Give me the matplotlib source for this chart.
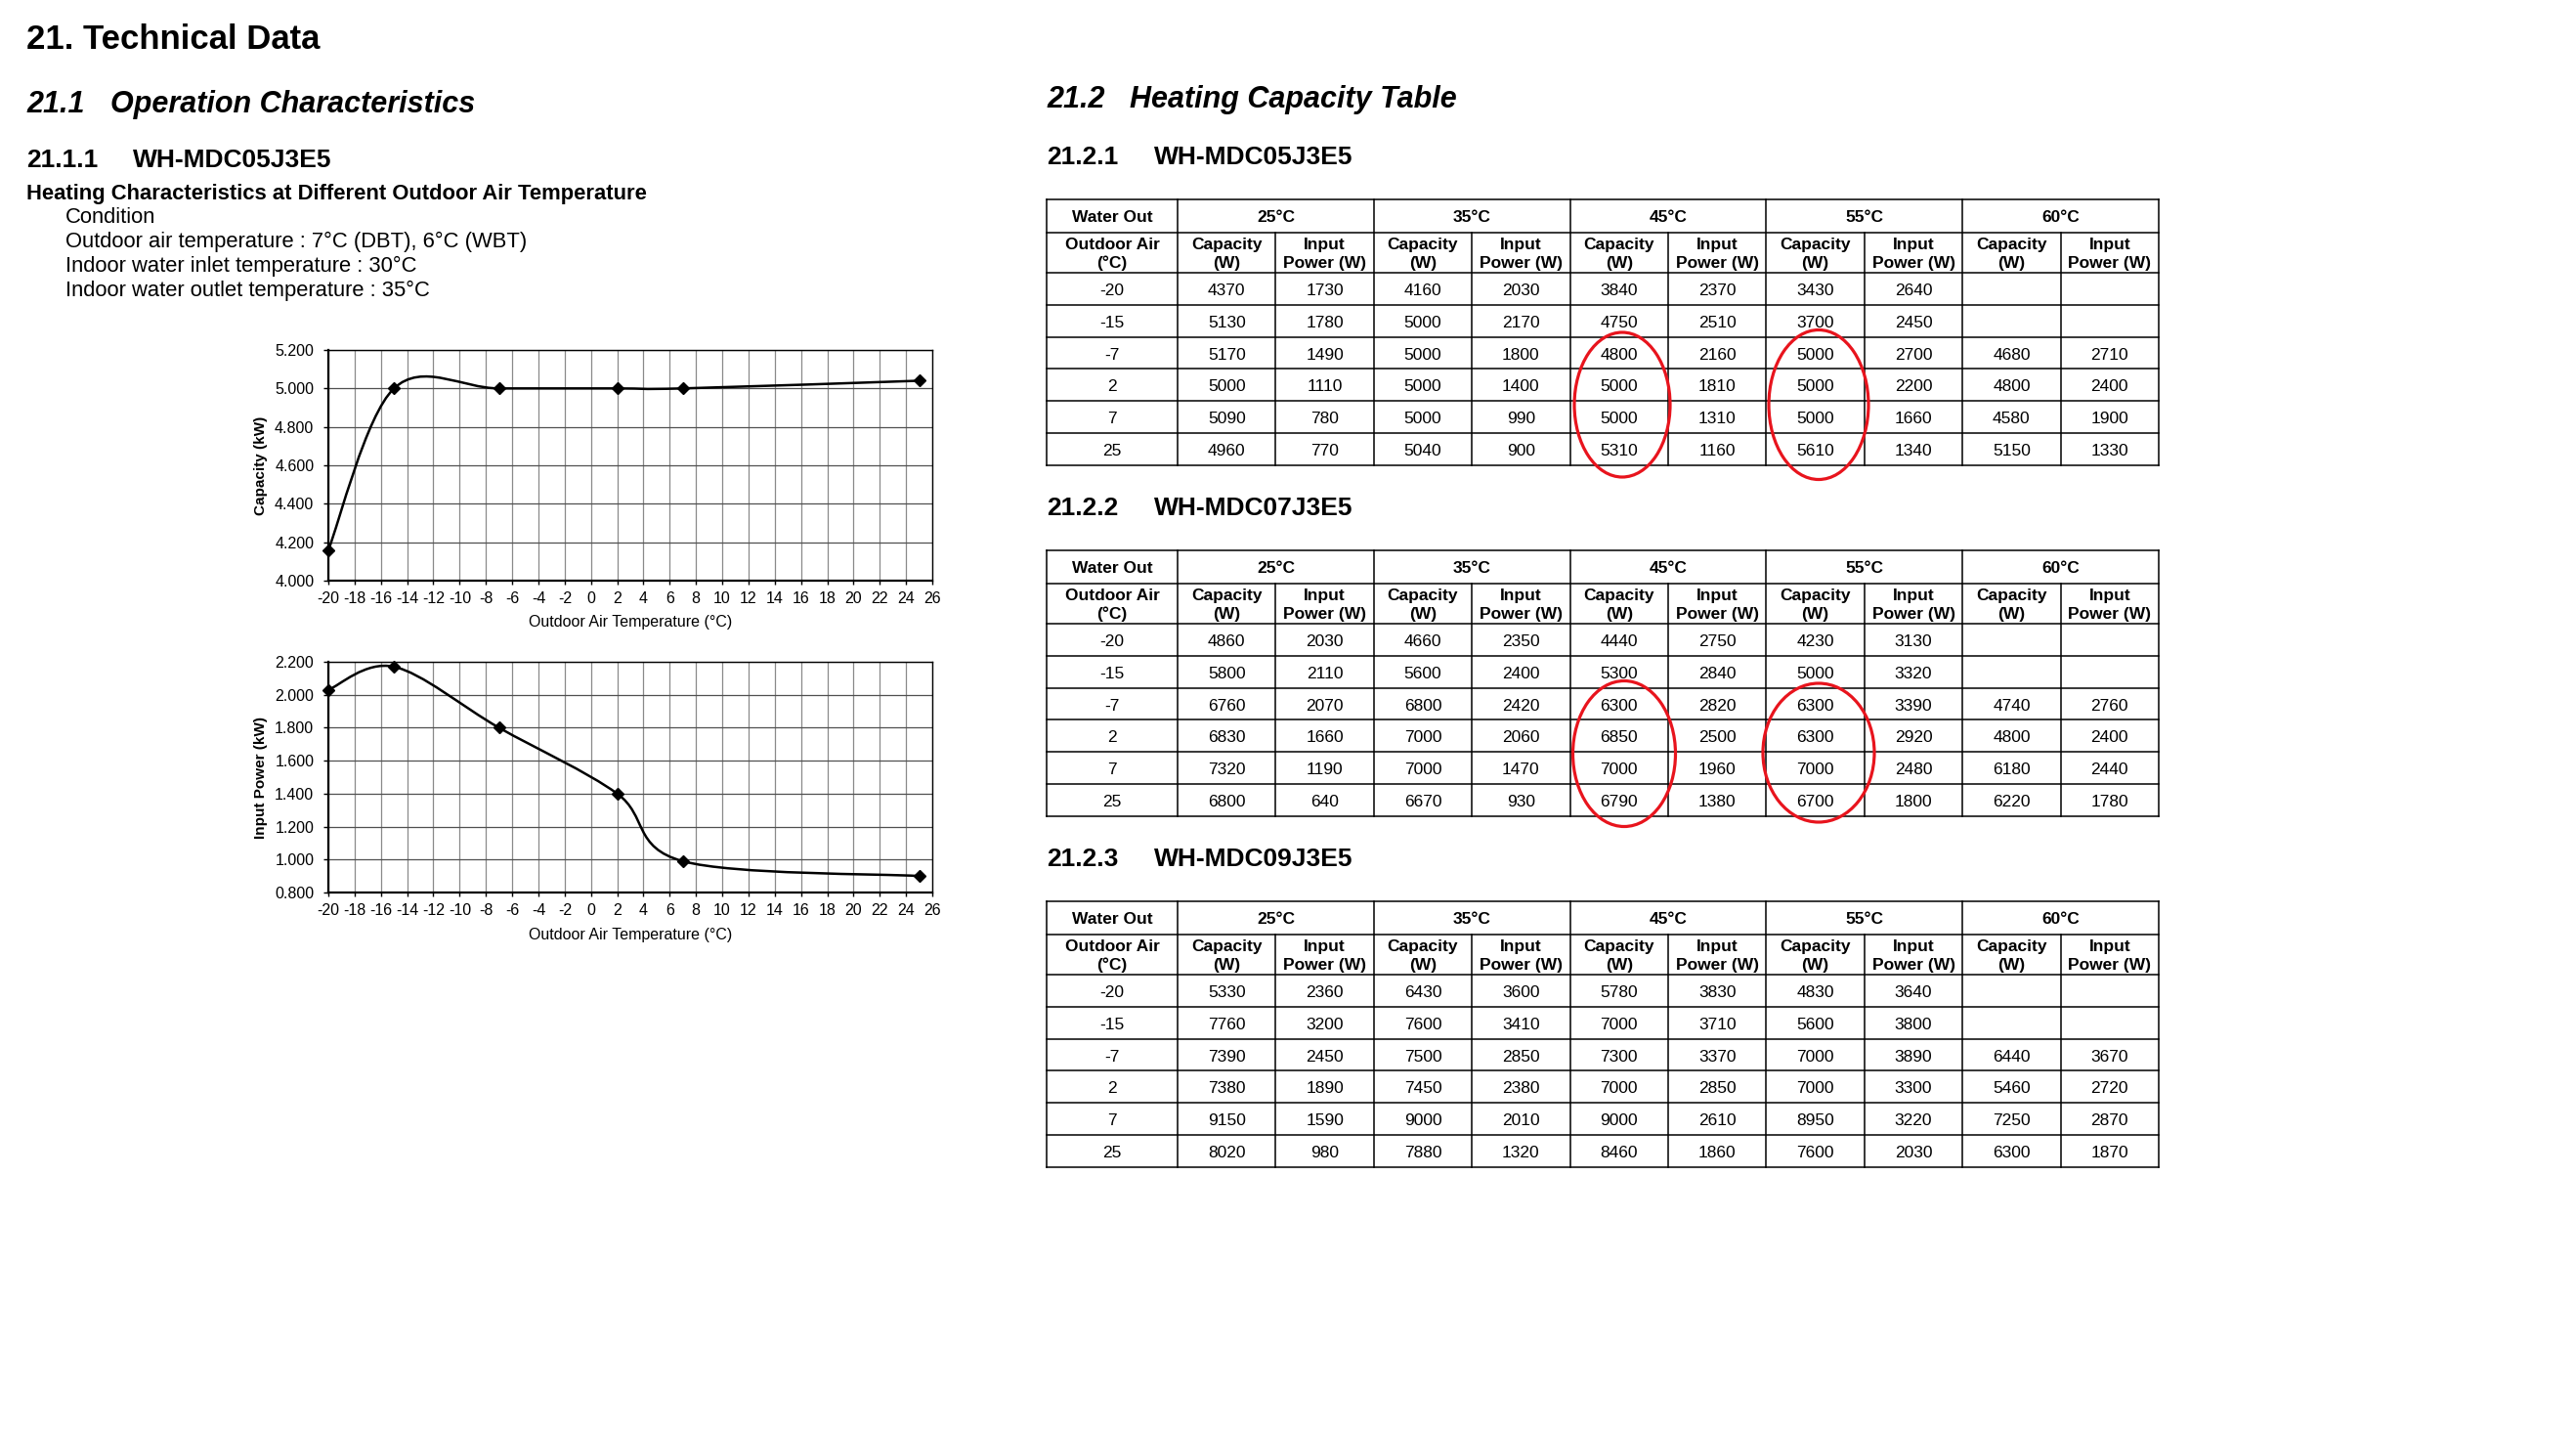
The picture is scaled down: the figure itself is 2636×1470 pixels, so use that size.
import matplotlib
matplotlib.use('Agg')
import matplotlib.pyplot as plt
import numpy as np
from matplotlib.path import Path
from matplotlib.patches import PathPatch, Ellipse
from matplotlib.ticker import FormatStrFormatter

plt.rcParams['font.family'] = ['Liberation Sans', 'DejaVu Sans']
plt.rcParams['axes.unicode_minus'] = False

# chart data: WH-MDC05J3E5, water out 35°C
chart_temp = [-20, -15, -7, 2, 7, 25]
chart_capacity = [4.16, 5.0, 5.0, 5.0, 5.0, 5.04]
chart_input = [2.03, 2.17, 1.80, 1.40, 0.99, 0.90]

# table data
outdoor_air = ['-20', '-15', '-7', '2', '7', '25']
water_out = ['25°C', '35°C', '45°C', '55°C', '60°C']

mdc05 = [
    [4370, 1730, 4160, 2030, 3840, 2370, 3430, 2640, None, None],
    [5130, 1780, 5000, 2170, 4750, 2510, 3700, 2450, None, None],
    [5170, 1490, 5000, 1800, 4800, 2160, 5000, 2700, 4680, 2710],
    [5000, 1110, 5000, 1400, 5000, 1810, 5000, 2200, 4800, 2400],
    [5090, 780, 5000, 990, 5000, 1310, 5000, 1660, 4580, 1900],
    [4960, 770, 5040, 900, 5310, 1160, 5610, 1340, 5150, 1330],
]
mdc07 = [
    [4860, 2030, 4660, 2350, 4440, 2750, 4230, 3130, None, None],
    [5800, 2110, 5600, 2400, 5300, 2840, 5000, 3320, None, None],
    [6760, 2070, 6800, 2420, 6300, 2820, 6300, 3390, 4740, 2760],
    [6830, 1660, 7000, 2060, 6850, 2500, 6300, 2920, 4800, 2400],
    [7320, 1190, 7000, 1470, 7000, 1960, 7000, 2480, 6180, 2440],
    [6800, 640, 6670, 930, 6790, 1380, 6700, 1800, 6220, 1780],
]
mdc09 = [
    [5330, 2360, 6430, 3600, 5780, 3830, 4830, 3640, None, None],
    [7760, 3200, 7600, 3410, 7000, 3710, 5600, 3800, None, None],
    [7390, 2450, 7500, 2850, 7300, 3370, 7000, 3890, 6440, 3670],
    [7380, 1890, 7450, 2380, 7000, 2850, 7000, 3300, 5460, 2720],
    [9150, 1590, 9000, 2010, 9000, 2610, 8950, 3220, 7250, 2870],
    [8020, 980, 7880, 1320, 8460, 1860, 7600, 2030, 6300, 1870],
]

W, H = 2636, 1470
fig = plt.figure(figsize=(W / 100, H / 100), dpi=100)
page = fig.add_axes([0, 0, 1, 1])
page.set_xlim(0, W)
page.set_ylim(H, 0)
page.axis('off')


def smooth_path(xs, ys):
    # excel-like smoothed line (catmull-rom as cubic bezier)
    pts = list(zip(xs, ys))
    n = len(pts)
    verts = [pts[0]]
    codes = [Path.MOVETO]
    for i in range(n - 1):
        p0 = pts[i - 1] if i > 0 else pts[i]
        p1 = pts[i]
        p2 = pts[i + 1]
        p3 = pts[i + 2] if i + 2 < n else pts[i + 1]
        c1 = (p1[0] + (p2[0] - p0[0]) / 6, p1[1] + (p2[1] - p0[1]) / 6)
        c2 = (p2[0] - (p3[0] - p1[0]) / 6, p2[1] - (p3[1] - p1[1]) / 6)
        verts += [c1, c2, p2]
        codes += [Path.CURVE4] * 3
    return Path(verts, codes)


def draw_chart(top, bottom, values, ylim, ylabel):
    left, right = 336, 954
    ax = fig.add_axes([left / W, 1 - bottom / H, (right - left) / W, (bottom - top) / H])
    ax.set_xlim(-20, 26)
    ax.set_ylim(*ylim)
    ax.set_xticks(range(-20, 27, 2))
    ax.set_yticks(np.arange(ylim[0], ylim[1] + 0.01, 0.2))
    ax.yaxis.set_major_formatter(FormatStrFormatter('%.3f'))
    ax.grid(True, axis='x', color='#8a8a8a', lw=0.9)
    ax.grid(True, axis='y', color='#505050', lw=0.9)
    ax.set_axisbelow(True)
    for s in ax.spines.values():
        s.set_color('black')
        s.set_linewidth(1.0)
    ax.spines['left'].set_linewidth(1.6)
    ax.spines['bottom'].set_linewidth(1.6)
    ax.tick_params(axis='x', direction='out', length=3, width=1, pad=5, labelsize=11.5)
    ax.tick_params(axis='y', direction='out', length=3.6, width=1, pad=7, labelsize=11.5)
    ax.add_patch(PathPatch(smooth_path(chart_temp, values), fill=False,
                           lw=1.8, edgecolor='black', zorder=3))
    ax.plot(chart_temp, values, ls='none', marker='D', ms=5.8, color='black',
            clip_on=False, zorder=4)
    ax.set_xlabel('Outdoor Air Temperature (°C)', fontsize=11.5, va='center')
    ax.xaxis.set_label_coords(0.5, -43 / (bottom - top))
    ax.set_ylabel(ylabel, fontsize=11, fontweight='bold', va='center')
    ax.yaxis.set_label_coords(-69 / (right - left), 0.5)
    return ax


def draw_table(top, values):
    xs = [1071] + [1205 + 100.4 * i for i in range(11)]
    ys = [top, top + 34, top + 75] + [top + 75 + 32.8 * (i + 1) for i in range(6)]
    for y in ys:
        page.plot([xs[0], xs[-1]], [y, y], color='black', lw=1.1)
    for i, x in enumerate(xs):
        if i in (0, 1, 3, 5, 7, 9, 11):
            page.plot([x, x], [ys[0], ys[-1]], color='black', lw=1.1)
        else:
            page.plot([x, x], [ys[1], ys[-1]], color='black', lw=1.1)
    hb = dict(fontsize=12.5, fontweight='bold', ha='center', va='baseline')
    page.text((xs[0] + xs[1]) / 2, top + 23, 'Water Out', **hb)
    for g, name in enumerate(water_out):
        page.text((xs[1 + 2 * g] + xs[3 + 2 * g]) / 2, top + 23, name, **hb)
    sub = [('Outdoor Air', '(°C)')] + [('Capacity', '(W)'), ('Input', 'Power (W)')] * 5
    for j, (a, b) in enumerate(sub):
        cx = (xs[j] + xs[j + 1]) / 2
        page.text(cx, top + 34 + 17, a, **hb)
        page.text(cx, top + 34 + 36, b, **hb)
    for r, label in enumerate(outdoor_air):
        yb = (ys[2 + r] + ys[3 + r]) / 2 + 6.5
        page.text((xs[0] + xs[1]) / 2, yb, label, fontsize=12.5, ha='center', va='baseline')
        for j, v in enumerate(values[r]):
            if v is None:
                continue
            page.text((xs[j + 1] + xs[j + 2]) / 2, yb, str(v), fontsize=12.5,
                      ha='center', va='baseline')


def circle(cx, cy, w, h):
    page.add_patch(Ellipse((cx, cy), w, h, fill=False, edgecolor='#e8141d', lw=2.3, zorder=5))


# left column text
page.text(27, 50, '21. Technical Data', fontsize=25, fontweight='bold', va='baseline')
page.text(27, 115, '21.1', fontsize=22, fontweight='bold', style='italic', va='baseline')
page.text(113, 115, 'Operation Characteristics', fontsize=22, fontweight='bold',
          style='italic', va='baseline')
page.text(27, 171, '21.1.1', fontsize=19, fontweight='bold', va='baseline')
page.text(136, 171, 'WH-MDC05J3E5', fontsize=19, fontweight='bold', va='baseline')
page.text(27, 204, 'Heating Characteristics at Different Outdoor Air Temperature',
          fontsize=15.8, fontweight='bold', va='baseline')
cond = ['Condition',
        'Outdoor air temperature : 7°C (DBT), 6°C (WBT)',
        'Indoor water inlet temperature : 30°C',
        'Indoor water outlet temperature : 35°C']
for i, line in enumerate(cond):
    page.text(67, 228 + 25 * i, line, fontsize=15.8, va='baseline')

draw_chart(358, 594, chart_capacity, (4.0, 5.2), 'Capacity (kW)')
draw_chart(677, 913, chart_input, (0.8, 2.2), 'Input Power (kW)')

# right column
page.text(1071, 110, '21.2', fontsize=22, fontweight='bold', style='italic', va='baseline')
page.text(1156, 110, 'Heating Capacity Table', fontsize=22, fontweight='bold',
          style='italic', va='baseline')
tables = [('21.2.1', 'WH-MDC05J3E5', 204, mdc05),
          ('21.2.2', 'WH-MDC07J3E5', 563, mdc07),
          ('21.2.3', 'WH-MDC09J3E5', 922, mdc09)]
for num, model, top, vals in tables:
    page.text(1071, top - 36, num, fontsize=19, fontweight='bold', va='baseline')
    page.text(1181, top - 36, model, fontsize=19, fontweight='bold', va='baseline')
    draw_table(top, vals)

circle(1660, 414, 98, 148)
circle(1861, 414, 102, 153)
circle(1662, 771, 105, 149)
circle(1861, 770, 114, 142)

fig.savefig('out.png', dpi=100)
